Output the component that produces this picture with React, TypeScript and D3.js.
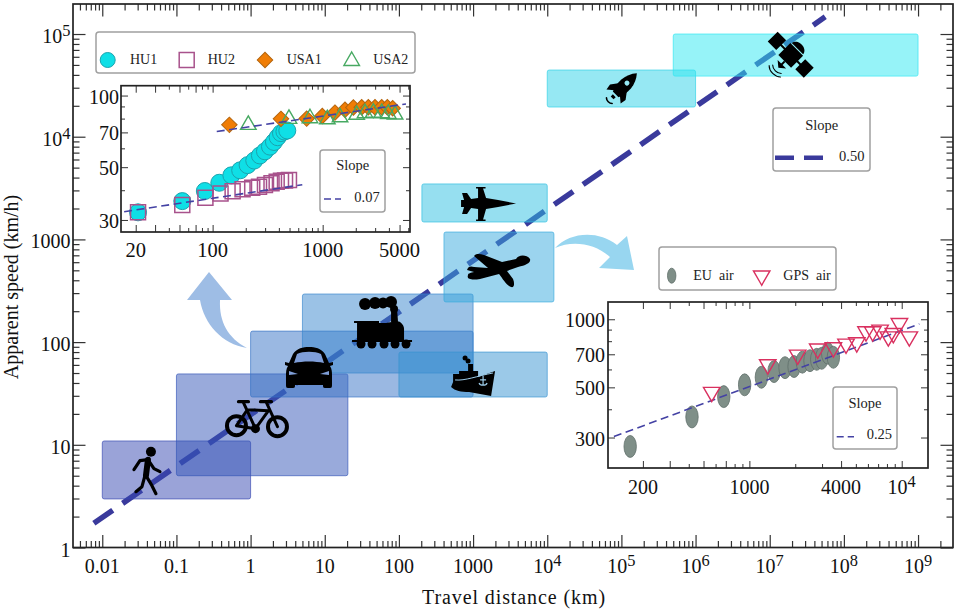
// App.tsx - travel distance vs apparent speed, log-log with two insets
import { useEffect, useRef } from "react"
import * as d3 from "d3"

const W = 957
const H = 613
const FONT = "'Liberation Serif', 'Times New Roman', serif"
const INK = "#222"

// Main panel: transport modes as ranges of distance and speed
const modes = ["walk", "bike", "car", "train", "ship", "plane", "jet", "rocket", "satellite"]
const modeDistance = [[0.01, 1], [0.1, 20.5], [1, 1000], [5, 1000], [100, 10000], [405, 12300], [204, 10000], [10000, 1000000], [500000, 1000000000]]
const modeSpeed = [[2.97, 10.9], [5, 49], [29.2, 128], [50, 294], [29.2, 80], [246, 1180], [1477, 3470], [19450, 44600], [38900, 100000]]
const modeColors = ["#3547b1", "#3355b7", "#3571c5", "#3785cd", "#3793d1", "#37a9dd", "#2dbfe1", "#2dd1e7", "#2de7f1"]
const iconDistance = [0.0413, 1.2, 6.13, 57.4, 1000, 2170, 1406, 102000, 19400000]
const iconSpeed = [5.6, 16.8, 56, 168, 42.8, 539, 2210, 29800, 62400]

const trendDistance = [0.0077, 56000000]
const trendSpeed = [1.72, 147000]

// Upper-left inset
const hu1X = [21, 53, 85, 115, 148, 178, 208, 239, 269, 299, 332, 361, 390, 418, 449, 477]
const hu1Y = [32.3, 36, 39.7, 43, 46.2, 48.5, 51, 53.3, 56, 58.3, 61, 63.8, 66.8, 69.5, 70.6, 71.3]
const hu2X = [21, 53, 86, 118, 152, 187, 229, 264, 299, 343, 382, 418, 455, 494]
const hu2Y = [32.3, 34.7, 37.2, 38.8, 39.6, 40.4, 41, 41.4, 42.1, 42.8, 43.4, 43.8, 44, 44.2]
const usa1X = [142, 418, 716, 993, 1294, 1596, 1901, 2263, 2600, 2990, 3440, 3870, 4330]
const usa1Y = [75.3, 79.8, 80, 82.1, 84.8, 87.1, 89.1, 89.3, 89.3, 89.3, 89.3, 89.3, 88.5]
const usa2X = [211, 494, 767, 1103, 1438, 2037, 2426, 2890, 3440, 3950, 4550]
const usa2Y = [75.3, 79.8, 80.3, 79.5, 81, 83, 84.3, 84.8, 84.3, 83.7, 83.2]
const fitUsaX = [109, 5720]
const fitUsaY = [70.6, 92.2]
const fitHuX = [15.7, 653]
const fitHuY = [32.5, 42.2]

// Lower-right inset
const euX = [165, 420, 679, 931, 1199, 1452, 1714, 1965, 2228, 2500, 2767, 2985, 3266, 3560]
const euY = [274, 370, 455, 513, 554, 587, 611, 618, 646, 656, 665, 672, 708, 679]
const gpsX = [566, 1320, 2076, 2810, 3560, 4310, 5070, 5830, 6450, 7210, 8170, 8810, 9660, 11220]
const gpsY = [476, 631, 696, 740, 750, 778, 789, 882, 882, 897, 838, 867, 960, 838]
const fitAirX = [129, 13060]
const fitAirY = [303, 954]

const mainXLabels = [0.01, 0.1, 1, 10, 100, 1000, 1e4, 1e5, 1e6, 1e7, 1e8, 1e9]
const mainYLabels = [1, 10, 100, 1000, 1e4, 1e5]
const inset1XLabels = [20, 100, 1000, 5000]
const inset1YLabels = [30, 50, 70, 100]
const inset2XLabels = [200, 1000, 4000, 1e4]
const inset2YLabels = [300, 500, 700, 1000]

type G = d3.Selection<SVGGElement, unknown, null, undefined>
type Log = d3.ScaleLogarithmic<number, number>

// label: plain number up to 1000 (or 5000 etc), superscript powers above
function addLabel(g: G, x: number, y: number, v: number, anchor: string, size: number) {
  const t = g.append("text").attr("x", x).attr("y", y).attr("text-anchor", anchor)
    .attr("font-size", size).attr("fill", "#111")
  if (v >= 1e4) {
    t.append("tspan").text("10")
    t.append("tspan").attr("font-size", size * 0.82).attr("dy", -7).text(Math.round(Math.log10(v)))
  } else {
    t.text(String(v))
  }
}

function frame(g: G, x: Log, y: Log, major: (v: number) => boolean, lenMajor: number, lenMinor: number, width: number, count: number) {
  const [x0, x1] = x.range()
  const [y0, y1] = y.range()
  const xt = x.ticks(count)
  const yt = y.ticks(count)
  const sides: [any, number, number, number[]][] = [
    [d3.axisTop, 0, y0, xt],
    [d3.axisBottom, 0, y1, xt],
    [d3.axisRight, x0, 0, yt],
    [d3.axisLeft, x1, 0, yt],
  ]
  sides.forEach(([mk, tx, ty, vals], i) => {
    const scale = i < 2 ? x : y
    ;[[vals.filter(major), lenMajor], [vals.filter((v) => !major(v)), lenMinor]].forEach(([tv, len]) => {
      const a = g.append("g").attr("transform", `translate(${tx},${ty})`)
        .call(mk(scale).tickValues(tv).tickSize(len).tickFormat(() => ""))
      a.select(".domain").remove()
      a.selectAll("line").attr("stroke", "#333").attr("stroke-width", width)
    })
  })
  g.append("rect").attr("x", x0).attr("y", y1).attr("width", x1 - x0).attr("height", y0 - y1)
    .attr("fill", "none").attr("stroke", INK).attr("stroke-width", 1.7)
}

function legendBox(g: G, x0: number, y0: number, x1: number, y1: number) {
  g.append("rect").attr("x", x0).attr("y", y0).attr("width", x1 - x0).attr("height", y1 - y0)
    .attr("rx", 3).attr("fill", "#fff").attr("stroke", "#a0a0a0").attr("stroke-width", 1.5)
}

function legendText(g: G, x: number, y: number, s: string, anchor = "start", size = 14.5) {
  g.append("text").attr("x", x).attr("y", y).attr("text-anchor", anchor).attr("font-size", size)
    .attr("fill", "#222").style("white-space", "pre").text(s)
}

const sym = (type: d3.SymbolType, size: number) => d3.symbol().type(type).size(size)() as string

const markStyles = {
  hu1: { fill: "#0fdfe6", stroke: "#1ba3ae" },
  hu2: { fill: "none", stroke: "#a8528c" },
  usa1: { fill: "#f07d05", stroke: "#b3650f" },
  usa2: { fill: "none", stroke: "#47a962" },
  eu: { fill: "#7f8f88", stroke: "#5f6f69" },
  gps: { fill: "none", stroke: "#d9305f" },
}

function drawHu1(g: G, x: number, y: number, r = 8.5) {
  g.append("circle").attr("cx", x).attr("cy", y).attr("r", r)
    .attr("fill", markStyles.hu1.fill).attr("stroke", markStyles.hu1.stroke).attr("stroke-width", 1)
}
function drawHu2(g: G, x: number, y: number) {
  g.append("path").attr("transform", `translate(${x},${y})`).attr("d", sym(d3.symbolSquare, 225))
    .attr("fill", "none").attr("stroke", markStyles.hu2.stroke).attr("stroke-width", 1.5)
}
function drawUsa1(g: G, x: number, y: number) {
  g.append("path").attr("transform", `translate(${x},${y}) rotate(45)`).attr("d", sym(d3.symbolSquare, 120))
    .attr("fill", markStyles.usa1.fill).attr("stroke", markStyles.usa1.stroke).attr("stroke-width", 1)
}
function drawUsa2(g: G, x: number, y: number) {
  g.append("path").attr("transform", `translate(${x},${y})`).attr("d", sym(d3.symbolTriangle, 105))
    .attr("fill", "none").attr("stroke", markStyles.usa2.stroke).attr("stroke-width", 1.4)
}
function drawEu(g: G, x: number, y: number, rx = 6.2, ry = 11) {
  g.append("ellipse").attr("cx", x).attr("cy", y).attr("rx", rx).attr("ry", ry)
    .attr("fill", markStyles.eu.fill).attr("stroke", markStyles.eu.stroke).attr("stroke-width", 0.8)
}
function drawGps(g: G, x: number, y: number) {
  g.append("path").attr("transform", `translate(${x},${y}) rotate(180)`).attr("d", sym(d3.symbolTriangle, 118))
    .attr("fill", "none").attr("stroke", markStyles.gps.stroke).attr("stroke-width", 1.4)
}

// Silhouettes, drawn around the anchor of each mode
function drawIcon(g: G, name: string) {
  const black = (d: string) => g.append("path").attr("d", d).attr("fill", "#000")
  const line = (d: string, w: number) => g.append("path").attr("d", d).attr("fill", "none")
    .attr("stroke", "#000").attr("stroke-width", w).attr("stroke-linecap", "round").attr("stroke-linejoin", "round")
  const dot = (x: number, y: number, r: number, fill = "#000") =>
    g.append("circle").attr("cx", x).attr("cy", y).attr("r", r).attr("fill", fill)

  if (name === "walk") {
    dot(3, -19, 5)
    line("M-14,-1 L-8,-10 L0,-11 L6,-2 L12,1", 3.2)
    line("M0,-11 L-2,5", 6)
    line("M-2,5 L4,15 L8,23", 3.2)
    line("M-3,5 L-6,16 L-12,21", 3.2)
  } else if (name === "bike") {
    g.append("circle").attr("cx", -20).attr("cy", 4).attr("r", 9.5).attr("fill", "none").attr("stroke", "#000").attr("stroke-width", 4)
    g.append("circle").attr("cx", 21).attr("cy", 5).attr("r", 9.5).attr("fill", "none").attr("stroke", "#000").attr("stroke-width", 4)
    line("M-20,4 L-9,-12 L12,-11 L-1,7 L-20,4 M-13,-19 L-1,7 M21,5 L10,-19", 3)
    line("M-18,-20 L-8,-20 M4,-20 L15,-20", 3.2)
    dot(-1, 7, 4.5)
  } else if (name === "car") {
    black("M-16,-14 C-12,-20 -6,-21 0,-21 C6,-21 12,-20 16,-14 L20,-5 L24,-6 L24,-3 L21,-2 C23,1 23,4 23,8 L23,17 C23,20 22,20 20,20 L16,20 C14,20 14,19 14,17 L-14,17 C-14,19 -14,20 -16,20 L-20,20 C-22,20 -23,20 -23,17 L-23,8 C-23,4 -23,1 -21,-2 L-24,-3 L-24,-6 L-20,-5 Z")
    g.append("path").attr("d", "M-15,-5 L-12,-14 C-6,-17 6,-17 12,-14 L15,-5 C6,-7 -6,-7 -15,-5 Z").attr("fill", "#7f9ed8")
    g.append("path").attr("d", "M-20,3 L-11,6 L-20,7 Z M20,3 L11,6 L20,7 Z").attr("fill", "#7f9ed8")
  } else if (name === "train") {
    ;[[-16, -15, 6], [-6, -16, 6], [2, -16, 5.5], [10, -17, 6], [13, -10, 4]].forEach(([x, y, r]) => dot(x, y, r))
    black("M10,-10 H16 L17,3 H10 Z")
    black("M-27,2 H-2 V4 H5 C10,3 17,2 19,3 C22,5 23,8 23,10 V22 H-24 V4 H-27 Z")
    black("M-29,21 H31 V23 H-29 Z")
    ;[-20, -9, 3, 14, 25].forEach((x) => dot(x, 25, 4.5))
  } else if (name === "ship") {
    black("M-22,7 L-20,2 V-6 H-14 V-9 H-5 V-16 H0 V-9 H5 V-3 L22,-9 L18,16 L-4,12 C-12,12 -18,11 -22,7 Z")
    dot(-5, -19, 2.5)
    dot(-8, -22, 2.5)
    g.append("path").attr("d", "M-18,-0 C-8,1 4,-4 20,-7").attr("fill", "none").attr("stroke", "#9ccbe8").attr("stroke-width", 1)
    g.append("path").attr("d", "M10,-4 V5 M7,0 H13 M6,3 C7,6 13,6 14,3").attr("fill", "none").attr("stroke", "#9ccbe8").attr("stroke-width", 1.2)
  } else if (name === "plane") {
    black("M32,-8 C33,-4 28,-2 20,0 L9,4 L15,12 C17,17 16,21 13,20 C8,18 5,12 1,7 L-18,12 C-25,13 -32,13 -30,8 C-30,6 -27,6 -24,5 L-31,3 C-30,-1 -27,-1 -24,0 L-10,1 L-24,-11 C-22,-14 -18,-13 -14,-12 L4,-5 L18,-8 C20,-12 28,-13 32,-8 Z")
  } else if (name === "jet") {
    black("M32,-0.5 L14,-4 L2,-6 L-1,-15.5 H1.5 V-17 H-8 V-15.5 H-6 V-6 L-13,-5 L-17,-11 H-22 L-20,-4 H-23 V3 H-20 L-22,10 H-17 L-13,4 L-6,5 V15.5 H-8 V17 H1.5 V15.5 H-1 L2,5 L14,3 Z")
  } else if (name === "rocket") {
    g.attr("transform", `${g.attr("transform")} rotate(45)`)
    black("M0,-21 C8,-12 8,0 4,9 H-4 C-8,0 -8,-12 0,-21 Z")
    black("M-5,-2 L-11,6 L-10,12 L-4,7 Z M5,-2 L11,6 L10,12 L4,7 Z")
    black("M-2,11 H2 V14 H-2 Z")
    dot(0, -7, 2.5, "#96e8f3")
    line("M-4,18 C-2,20 2,20 4,18", 1.6)
  } else if (name === "satellite") {
    g.attr("transform", `${g.attr("transform")} rotate(45)`)
    black("M-26,-7 H-14 V7 H-26 Z M13,-7 H25 V7 H13 Z")
    black("M-9,-8 H9 V9 H-9 Z M-15,-1 H14 V1 H-15 Z")
    black("M-8,-9 C-7,-17 7,-17 8,-9 Z")
    black("M-6,13 H6 L0,18 Z M-1,9 H1 V14 H-1 Z")
    line("M-6,20 C-3,23 3,23 6,20 M-8,23 C-4,27 4,27 8,23", 1.1)
  }
}

export default function App() {
  const svgRef = useRef<SVGSVGElement>(null)

  useEffect(() => {
    if (!svgRef.current) return
    const svg = d3.select(svgRef.current)
    svg.selectAll("*").remove()
    const root = svg.append("g").attr("font-family", FONT) as unknown as G

    const isPow10 = (v: number) => Math.abs(Math.log10(v) - Math.round(Math.log10(v))) < 1e-6

    // --- main panel
    const x = d3.scaleLog().domain([0.00403, 2.96e9]).range([73, 953])
    const y = d3.scaleLog().domain([1, 1.96e5]).range([547.5, 4])

    root.append("path")
      .attr("d", `M${x(trendDistance[0])},${y(trendSpeed[0])} L${x(trendDistance[1])},${y(trendSpeed[1])}`)
      .attr("stroke", "#3a3a9c").attr("stroke-width", 5.5).attr("stroke-dasharray", "23 12").attr("fill", "none")

    modes.forEach((m, i) => {
      root.append("rect")
        .attr("x", x(modeDistance[i][0])).attr("y", y(modeSpeed[i][1]))
        .attr("width", x(modeDistance[i][1]) - x(modeDistance[i][0]))
        .attr("height", y(modeSpeed[i][0]) - y(modeSpeed[i][1]))
        .attr("rx", 2)
        .attr("fill", modeColors[i]).attr("fill-opacity", 0.5)
        .attr("stroke", modeColors[i]).attr("stroke-opacity", 0.65).attr("stroke-width", 1)
    })
    modes.forEach((m, i) => {
      const ig = root.append("g").attr("transform", `translate(${x(iconDistance[i])},${y(iconSpeed[i])})`) as unknown as G
      drawIcon(ig, m)
    })

    // curved arrows towards the insets
    root.append("path").attr("d", "M247,348 C222,344 204,324 200,300 H187 L209,272 L232,300 H220 C219,322 228,338 247,348 Z").attr("fill", "#9ebde5")
    root.append("path").attr("d", "M555,248 C570,232 598,230 617,245 L627,236 L634,270 L599,268 L610,257 C595,243 572,240 555,248 Z").attr("fill", "#98d6f0")

    frame(root, x, y, isPow10, 12.5, 6.5, 1.2, 40)
    mainXLabels.forEach((v) => addLabel(root, x(v), 573, v, "middle", 20))
    mainYLabels.forEach((v) => addLabel(root, 70.5, y(v) + 9, v, "end", 20))

    root.append("text").attr("x", 514).attr("y", 604).attr("text-anchor", "middle").attr("font-size", 20)
      .attr("letter-spacing", 0.9).attr("fill", "#111").text("Travel distance (km)")
    root.append("text").attr("transform", "translate(18,287) rotate(-90)").attr("text-anchor", "middle").attr("font-size", 20)
      .attr("fill", "#111").text("Apparent speed (km/h)")

    legendBox(root, 773, 108, 870, 171)
    legendText(root, 821.7, 130, "Slope", "middle")
    root.append("path").attr("d", "M775,157.7 H823").attr("stroke", "#3a3a9c").attr("stroke-width", 4.5).attr("stroke-dasharray", "19 10")
    legendText(root, 839, 160.7, "0.50")

    // --- inset 1
    const x1 = d3.scaleLog().domain([14.7, 6220]).range([121, 410])
    const y1 = d3.scaleLog().domain([26.7, 110]).range([232, 85.7])
    const inset1 = root.append("g") as unknown as G
    inset1.append("rect").attr("x", 121).attr("y", 85.7).attr("width", 289).attr("height", 146.3).attr("fill", "#fff")
    hu1X.forEach((v, i) => drawHu1(inset1, x1(v), y1(hu1Y[i])))
    hu2X.forEach((v, i) => drawHu2(inset1, x1(v), y1(hu2Y[i])))
    usa1X.forEach((v, i) => drawUsa1(inset1, x1(v), y1(usa1Y[i])))
    usa2X.forEach((v, i) => drawUsa2(inset1, x1(v), y1(usa2Y[i])))
    ;[[fitUsaX, fitUsaY], [fitHuX, fitHuY]].forEach(([fx, fy]) => {
      inset1.append("path").attr("d", `M${x1(fx[0])},${y1(fy[0])} L${x1(fx[1])},${y1(fy[1])}`)
        .attr("stroke", "#4442a4").attr("stroke-width", 1.6).attr("stroke-dasharray", "8 4.5").attr("fill", "none")
    })
    const labelled1 = (v: number) => isPow10(v) || inset1XLabels.includes(v) || inset1YLabels.includes(v)
    frame(inset1, x1, y1, labelled1, 7, 4, 1, 10)
    inset1XLabels.forEach((v) => addLabel(inset1, x1(v), 257, v, "middle", 20.5))
    inset1YLabels.forEach((v) => addLabel(inset1, 119, y1(v) + 8, v, "end", 20))

    legendBox(inset1, 320, 150, 385, 212)
    legendText(inset1, 352.7, 170, "Slope", "middle")
    inset1.append("path").attr("d", "M324,199 H341").attr("stroke", "#4442a4").attr("stroke-width", 1.6).attr("stroke-dasharray", "7 4")
    legendText(inset1, 354.3, 201.7, "0.07")

    legendBox(inset1, 96, 32, 415, 73)
    drawHu1(inset1, 107.7, 60, 7.5)
    legendText(inset1, 130, 63.5, "HU1", "start", 14)
    drawHu2(inset1, 186.7, 60)
    legendText(inset1, 207.7, 63.5, "HU2", "start", 14)
    drawUsa1(inset1, 265, 60)
    legendText(inset1, 286.7, 63.5, "USA1", "start", 14)
    drawUsa2(inset1, 351.7, 61)
    legendText(inset1, 373.3, 63.5, "USA2", "start", 14)

    // --- inset 2
    const x2 = d3.scaleLog().domain([118, 14880]).range([608, 928])
    const y2 = d3.scaleLog().domain([220, 1192]).range([468, 302])
    const inset2 = root.append("g") as unknown as G
    inset2.append("rect").attr("x", 608).attr("y", 302).attr("width", 320).attr("height", 166).attr("fill", "#fff")
    euX.forEach((v, i) => drawEu(inset2, x2(v), y2(euY[i])))
    inset2.append("path").attr("d", `M${x2(fitAirX[0])},${y2(fitAirY[0])} L${x2(fitAirX[1])},${y2(fitAirY[1])}`)
      .attr("stroke", "#4442a4").attr("stroke-width", 1.6).attr("stroke-dasharray", "8 4.5").attr("fill", "none")
    gpsX.forEach((v, i) => drawGps(inset2, x2(v), y2(gpsY[i])))
    const labelled2 = (v: number) => isPow10(v) || inset2XLabels.includes(v) || inset2YLabels.includes(v)
    frame(inset2, x2, y2, labelled2, 7, 4, 1, 10)
    inset2XLabels.forEach((v) => addLabel(inset2, x2(v), 494, v, "middle", 20))
    inset2YLabels.forEach((v) => addLabel(inset2, 605, y2(v) + 8, v, "end", 20))

    legendBox(inset2, 833, 387, 897, 449)
    legendText(inset2, 865, 408, "Slope", "middle")
    inset2.append("path").attr("d", "M836.7,436.7 H854").attr("stroke", "#4442a4").attr("stroke-width", 1.6).attr("stroke-dasharray", "7 4")
    legendText(inset2, 866.7, 439, "0.25")

    legendBox(inset2, 659, 247, 836, 290)
    drawEu(inset2, 671.7, 275.7, 4.2, 7.5)
    legendText(inset2, 693.3, 279.5, "EU  air", "start", 14)
    drawGps(inset2, 761.7, 275.7)
    legendText(inset2, 783.3, 279.5, "GPS  air", "start", 14)
  }, [])

  return (
    <svg
      ref={svgRef}
      width={W}
      height={H}
      viewBox={`0 0 ${W} ${H}`}
      style={{ position: "absolute", left: 0, top: 0, background: "#fff" }}
    />
  )
}
